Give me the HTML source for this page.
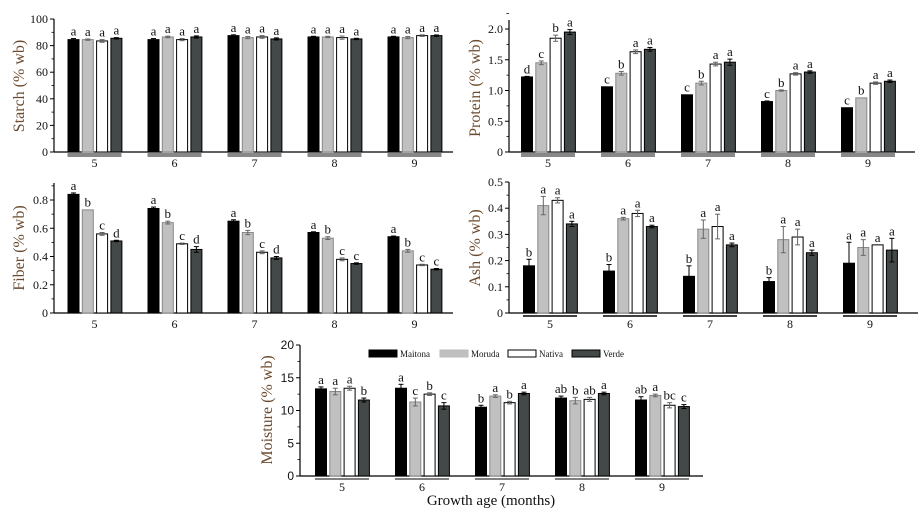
<!DOCTYPE html>
<html><head><meta charset="utf-8"><style>
html,body{margin:0;padding:0;background:#fff;}
svg{display:block;font-family:"Liberation Serif",serif;}
</style></head><body>
<svg id="c" width="921" height="518" viewBox="0 0 921 518"></svg>
<script>
const categories = ["5","6","7","8","9"];
const varieties = ["Maitona","Moruda","Nativa","Verde"];
const starchValues = [[84.5,84.5,83.5,85.5],[84.5,86.5,84.5,86.5],[87.5,86,86.5,85],[86.5,86.5,86,85],[86.5,86,87.5,87.5]];
const starchErr = [[0.8,0.5,1,0.5],[0.8,0.6,0.8,0.8],[0.6,0.8,1,0.8],[0.5,0.5,1.2,0.5],[0.5,0.8,0.6,0.5]];
const starchLetters = [["a","a","a","a"],["a","a","a","a"],["a","a","a","a"],["a","a","a","a"],["a","a","a","a"]];
const proteinValues = [[1.22,1.45,1.85,1.95],[1.06,1.28,1.63,1.67],[0.93,1.12,1.43,1.46],[0.82,1.0,1.27,1.30],[0.72,0.88,1.12,1.15]];
const proteinErr = [[0.01,0.03,0.05,0.04],[0.005,0.03,0.03,0.03],[0.005,0.03,0.03,0.05],[0.01,0.01,0.02,0.02],[0.005,0.005,0.02,0.02]];
const proteinLetters = [["d","c","b","a"],["c","b","a","a"],["c","b","a","a"],["c","b","a","a"],["c","b","a","a"]];
const fiberValues = [[0.84,0.73,0.56,0.51],[0.74,0.64,0.49,0.45],[0.65,0.57,0.43,0.39],[0.57,0.53,0.38,0.35],[0.54,0.44,0.34,0.31]];
const fiberErr = [[0.01,0.003,0.01,0.005],[0.01,0.01,0.005,0.02],[0.01,0.015,0.01,0.01],[0.005,0.01,0.01,0.005],[0.005,0.01,0.005,0.005]];
const fiberLetters = [["a","b","c","d"],["a","b","c","d"],["a","b","c","d"],["a","b","c","c"],["a","b","c","c"]];
const ashValues = [[0.18,0.41,0.43,0.34],[0.16,0.36,0.38,0.33],[0.14,0.32,0.33,0.26],[0.12,0.28,0.29,0.23],[0.19,0.25,0.26,0.24]];
const ashErr = [[0.025,0.035,0.01,0.01],[0.025,0.005,0.012,0.005],[0.04,0.035,0.047,0.007],[0.015,0.05,0.03,0.01],[0.08,0.03,0,0.045]];
const ashLetters = [["b","a","a","a"],["b","a","a","a"],["b","a","a","a"],["b","a","a","a"],["a","a","a","a"]];
const moistureValues = [[13.3,12.9,13.4,11.6],[13.4,11.3,12.5,10.7],[10.5,12.2,11.2,12.6],[11.9,11.5,11.7,12.6],[11.6,12.3,10.8,10.6]];
const moistureErr = [[0.3,0.5,0.3,0.3],[0.6,0.6,0.2,0.5],[0.3,0.2,0.2,0.2],[0.3,0.5,0.3,0.2],[0.5,0.2,0.4,0.3]];
const moistureLetters = [["a","a","a","b"],["a","c","b","c"],["b","a","b","a"],["ab","b","ab","a"],["ab","a","bc","c"]];
const starchTicks = ["0","20","40","60","80","100"];
const proteinTicks = ["0","0.5","1.0","1.5","2.0"];
const fiberTicks = ["0","0.2","0.4","0.6","0.8"];
const ashTicks = ["0","0.1","0.2","0.3","0.4","0.5"];
const moistureTicks = ["0","5","10","15","20"];

const svg = document.getElementById('c');
const NS = 'http://www.w3.org/2000/svg';
const fills = ['#000000','#c0c0c0','#ffffff','#434848'];
function mk(tag, attrs, parent){const e=document.createElementNS(NS,tag);for(const k in attrs)e.setAttribute(k,attrs[k]);(parent||svg).appendChild(e);return e;}

function panel(p){
  const g = mk('g',{});
  
  
  const scale = (p.base - p.topTickY)/p.maxTick;
  const y = v => p.base - v*scale;
  const x = i => p.c0 + p.step*i;
  // axes
  const ya = mk('line',{x1:p.ax,y1:p.axTop,x2:p.ax,y2:p.base,stroke:'#000','stroke-width':1.2},g);
  
  
  const xa = mk('line',{x1:p.ax,y1:p.base,x2:p.axR,y2:p.base,stroke:'#000','stroke-width':1.2},g);
  
  
  const n = p.ticks.length;
  const tstep = p.maxTick/(n-1);
  for(let i=0;i<n;i++){
    const v = tstep*i, ty = y(v);
    mk('line',{x1:p.ax-4,y1:ty,x2:p.ax,y2:ty,stroke:'#000','stroke-width':1},g);
    if(i<n-1) mk('line',{x1:p.ax-2.5,y1:y(v+tstep/2),x2:p.ax,y2:y(v+tstep/2),stroke:'#000','stroke-width':0.8},g);
    const t = mk('text',{x:p.ax-6,y:ty+4,'text-anchor':'end','font-size':p.tickFont||12,'font-family':p.tickFam||'"Liberation Serif",serif',fill:'#111'},g);
    t.textContent = p.ticks[i];
    
    
  }
  if(p.topTickY>p.axTop+3){
    mk('line',{x1:p.ax-2.5,y1:y(p.maxTick+tstep/2),x2:p.ax,y2:y(p.maxTick+tstep/2),stroke:'#000','stroke-width':0.8},g);
  }
  const yt = mk('text',{x:0,y:0,'text-anchor':'middle','font-size':16,fill:'#6b4a2e',transform:`translate(${p.ytX},${p.ytY}) rotate(-90)`},g);
  yt.textContent = p.title;
  
  
  p.values.forEach((grp,gi)=>{
    const cx = x(gi);
    if(p.under){
      const u = mk('line',{x1:cx-27,y1:p.base+3,x2:cx+27,y2:p.base+3,stroke:p.under,'stroke-width':p.underW},g);
      
      
    }
    const cl = mk('text',{x:cx,y:p.base+15,'text-anchor':'middle','font-size':12,fill:'#111'},g);
    cl.textContent = categories[gi];
    
    
    grp.forEach((v,bi)=>{
      const bx = cx - 26.5 + bi*14.3;
      const top = y(v);
      const r = mk('rect',{x:bx,y:top,width:11,height:p.base-top,fill:fills[bi],stroke:bi==1?'#888':'#000','stroke-width':1},g);
      
      
      const e = p.err[gi][bi]*scale;
      const ec = bi==1||bi==2 ? '#666':'#000';
      if(e>0.5){
        mk('line',{x1:bx+5.5,y1:top-e,x2:bx+5.5,y2:top+e,stroke:ec,'stroke-width':1},g);
        mk('line',{x1:bx+3,y1:top-e,x2:bx+8,y2:top-e,stroke:ec,'stroke-width':1},g);
        mk('line',{x1:bx+3,y1:top+e,x2:bx+8,y2:top+e,stroke:ec,'stroke-width':1},g);
      }
      const lt = mk('text',{x:bx+5.5,y:top-Math.max(e,0)-3,'text-anchor':'middle','font-size':13,fill:'#111'},g);
      lt.textContent = p.letters[gi][bi];
      
      
    });
  });
}

panel({name:'starch',title:'Starch (% wb)',values:starchValues,err:starchErr,letters:starchLetters,ticks:starchTicks,maxTick:100,
  ax:54,axR:453,axTop:19,base:152,topTickY:19,c0:94.5,step:80,under:'#888',underW:4,ytX:24,ytY:86});
panel({name:'protein',title:'Protein (% wb)',values:proteinValues,err:proteinErr,letters:proteinLetters,ticks:proteinTicks,maxTick:2.0,
  ax:509,axR:915,axTop:20,base:152,topTickY:29,c0:548,step:80,under:'#888',underW:4,ytX:480,ytY:88});
panel({name:'fiber',title:'Fiber (% wb)',values:fiberValues,err:fiberErr,letters:fiberLetters,ticks:fiberTicks,maxTick:0.8,
  ax:54,axR:453,axTop:183,base:313,topTickY:200,c0:94.5,step:80,under:null,ytX:24,ytY:248});
panel({name:'ash',title:'Ash (% wb)',values:ashValues,err:ashErr,letters:ashLetters,ticks:ashTicks,maxTick:0.5,
  ax:509,axR:918,axTop:182,base:313,topTickY:182,c0:550,step:80,under:'#000',underW:1.5,ytX:480,ytY:248});
panel({name:'moisture',title:'Moisture (% wb)',values:moistureValues,err:moistureErr,letters:moistureLetters,ticks:moistureTicks,maxTick:20,
  ax:300,axR:703,axTop:345,base:476,topTickY:345,c0:342,step:80,under:'#000',underW:1,ytX:272,ytY:410,
  tickFont:12,tickFam:'"Liberation Sans",sans-serif'});

// legend
const legX = [369,440,508,572];
varieties.forEach((nm,i)=>{
  const r = mk('rect',{x:legX[i],y:350,width:28,height:7,fill:fills[i],stroke:i==1?'#bbb':'#000','stroke-width':1});
  
  
  const t = mk('text',{x:legX[i]+31,y:357,'font-size':9,fill:'#111'});
  t.textContent = nm;
  
  
});
const xt = mk('text',{x:491,y:505,'text-anchor':'middle','font-size':15,fill:'#111'});
xt.textContent = 'Growth age (months)';


</script>
</body></html>
